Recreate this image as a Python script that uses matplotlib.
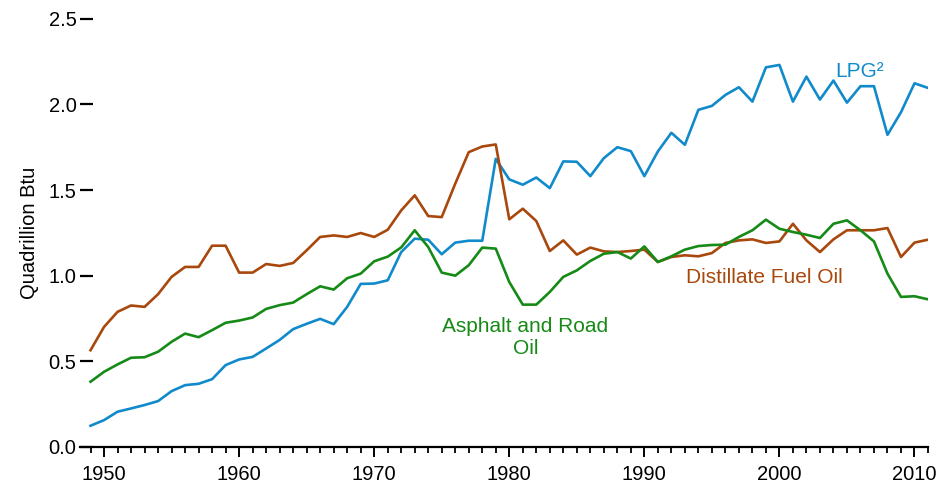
import numpy as np
import matplotlib.pyplot as plt

plt.rcParams['font.family'] = ['Liberation Sans', 'DejaVu Sans']

years = np.arange(1949, 2012)

# Quadrillion Btu
lpg = [0.124, 0.157, 0.206, 0.225, 0.245, 0.268, 0.326, 0.361, 0.369, 0.396,
       0.478, 0.511, 0.526, 0.575, 0.625, 0.688, 0.719, 0.748, 0.717, 0.818,
       0.952, 0.954, 0.973, 1.138, 1.216, 1.210, 1.125, 1.193, 1.204, 1.204,
       1.682, 1.562, 1.531, 1.573, 1.511, 1.667, 1.665, 1.581, 1.686, 1.750,
       1.727, 1.581, 1.725, 1.834, 1.764, 1.968, 1.991, 2.055, 2.100, 2.016,
       2.216, 2.230, 2.016, 2.162, 2.028, 2.139, 2.010, 2.106, 2.106, 1.822,
       1.954, 2.123, 2.096]
distillate = [0.565, 0.701, 0.789, 0.826, 0.818, 0.892, 0.993, 1.051, 1.051, 1.175,
              1.175, 1.018, 1.018, 1.068, 1.057, 1.074, 1.148, 1.226, 1.235, 1.226,
              1.249, 1.226, 1.268, 1.381, 1.469, 1.348, 1.342, 1.537, 1.721, 1.754,
              1.766, 1.329, 1.391, 1.319, 1.144, 1.206, 1.123, 1.164, 1.142, 1.138,
              1.144, 1.152, 1.080, 1.109, 1.119, 1.113, 1.132, 1.191, 1.206, 1.212,
              1.191, 1.200, 1.303, 1.206, 1.138, 1.212, 1.265, 1.265, 1.265, 1.278,
              1.109, 1.193, 1.210]
asphalt = [0.381, 0.439, 0.482, 0.521, 0.524, 0.556, 0.614, 0.662, 0.641, 0.682,
           0.725, 0.738, 0.756, 0.806, 0.828, 0.843, 0.892, 0.938, 0.919, 0.985,
           1.012, 1.084, 1.111, 1.165, 1.265, 1.167, 1.018, 1.000, 1.061, 1.164,
           1.158, 0.963, 0.831, 0.831, 0.905, 0.993, 1.031, 1.086, 1.128, 1.138,
           1.100, 1.171, 1.080, 1.113, 1.152, 1.173, 1.179, 1.181, 1.226, 1.265,
           1.327, 1.274, 1.255, 1.239, 1.220, 1.303, 1.323, 1.265, 1.200, 1.012,
           0.876, 0.880, 0.862]

blue = '#118acb'
brown = '#a8480c'
green = '#168a16'

fig = plt.figure(figsize=(9.39, 4.83), dpi=100)
ax = fig.add_axes([80 / 939, 1 - 447 / 483, 848 / 939, 428.3 / 483])

ax.plot(years, lpg, color=blue, lw=1.9)
ax.plot(years, distillate, color=brown, lw=1.9)
ax.plot(years, asphalt, color=green, lw=1.9)

ax.set_xlim(1948.22, 2011)
ax.set_ylim(0, 2.5)

for s in ['top', 'right', 'left']:
    ax.spines[s].set_visible(False)
ax.spines['bottom'].set_linewidth(1.6)

ax.set_yticks(np.arange(0, 2.51, 0.5))
ax.set_yticklabels(['0.0', '0.5', '1.0', '1.5', '2.0', '2.5'])
ax.tick_params(axis='y', direction='in', length=9, width=1.6, pad=2.5, labelsize=14.5)
ax.set_xticks(np.arange(1950, 2011, 10))
ax.set_xticks(np.arange(1949, 2012), minor=True)
ax.tick_params(axis='x', which='major', direction='out', length=7.5, width=1.4,
               pad=5.5, labelsize=14.5)
ax.tick_params(axis='x', which='minor', direction='out', length=4.3, width=1.3)

ax.set_ylabel('Quadrillion Btu', fontsize=14.5, labelpad=7)

ax.text(2004.16, 2.158, 'LPG²', color=blue, fontsize=15, ha='left', va='baseline')
ax.text(1993.1, 0.957, 'Distillate Fuel Oil', color=brown, fontsize=15,
        ha='left', va='baseline')
ax.text(1981.2, 0.54, 'Asphalt and Road\nOil', color=green, fontsize=15,
        ha='center', va='baseline', multialignment='center', linespacing=1.22)

fig.savefig('out.png', dpi=100)
